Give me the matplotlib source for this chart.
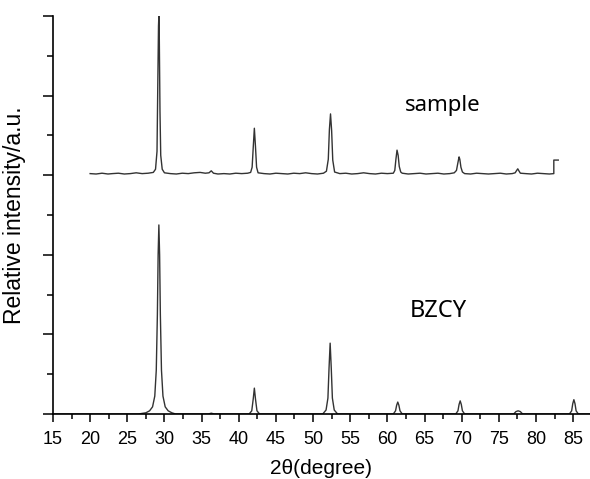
import matplotlib
matplotlib.use("Agg")
import matplotlib.pyplot as plt
from matplotlib.ticker import MultipleLocator

# 2theta / intensity points (arbitrary units, axis 0..1000)
sample_2theta = [20.0, 20.8, 21.6, 22.4, 23.0, 23.8, 24.6, 25.4, 26.2, 27.0, 27.8, 28.5,
                 28.8, 29.0, 29.1, 29.2, 29.25, 29.3, 29.4, 29.5, 29.7, 30.0,
                 30.8, 31.6, 32.4, 33.2, 34.0, 34.8, 35.5, 36.0, 36.3, 36.6, 37.2,
                 38.0, 38.8, 39.6, 40.4, 41.2, 41.6, 41.8, 41.95, 42.1, 42.25, 42.4, 42.6,
                 43.4, 44.2, 45.0, 45.8, 46.6, 47.4, 48.2, 49.0, 49.8, 50.6, 51.4,
                 51.8, 52.05, 52.2, 52.35, 52.5, 52.65, 52.9,
                 53.6, 54.4, 55.2, 56.0, 56.8, 57.6, 58.4, 59.2, 60.0, 60.8,
                 61.0, 61.15, 61.3, 61.45, 61.6, 61.8, 62.0,
                 62.8, 63.6, 64.4, 65.2, 66.0, 66.8, 67.6, 68.4, 69.0,
                 69.3, 69.5, 69.65, 69.75, 69.9, 70.1, 70.4,
                 71.2, 72.0, 72.8, 73.6, 74.4, 75.2, 76.0, 76.8,
                 77.2, 77.4, 77.55, 77.7, 77.9,
                 78.6, 79.4, 80.2, 81.0, 81.8, 82.4, 82.4, 83.0]
sample_int = [604, 603, 605, 603, 604, 605, 603, 604, 606, 604, 605, 607,
              615, 660, 820, 975, 1000, 960, 760, 650, 615, 606,
              604, 603, 605, 604, 606, 607, 605, 606, 611, 605, 603,
              604, 603, 605, 604, 605, 607, 620, 670, 718, 672, 620, 606,
              604, 603, 605, 604, 603, 605, 604, 606, 604, 603, 605,
              610, 640, 715, 754, 712, 638, 608,
              604, 605, 603, 604, 606, 604, 603, 605, 604, 605,
              612, 640, 663, 650, 622, 608, 605,
              603, 604, 605, 603, 604, 605, 603, 604, 606,
              612, 632, 646, 640, 620, 608, 604,
              603, 605, 604, 603, 604, 605, 603, 604,
              606, 612, 616, 611, 605,
              604, 603, 605, 604, 603, 604, 638, 638]

bzcy_2theta = [15.0, 26.5, 27.5, 28.0, 28.4, 28.7, 28.9, 29.05, 29.15, 29.25, 29.35,
               29.45, 29.6, 29.8, 30.1, 30.5, 31.0, 31.5,
               35.9, 36.3, 36.7,
               41.4, 41.75, 41.95, 42.1, 42.25, 42.45, 42.8,
               51.3, 51.75, 52.0, 52.15, 52.3, 52.45, 52.6, 52.85, 53.3,
               60.8, 61.1, 61.25, 61.4, 61.55, 61.7, 62.0,
               69.2, 69.5, 69.65, 69.8, 69.95, 70.1, 70.4,
               77.0, 77.3, 77.6, 77.9, 78.2,
               84.5, 84.8, 84.95, 85.1, 85.25, 85.4, 85.7, 87.3]
bzcy_int = [0, 0, 3, 8, 18, 45, 110, 250, 400, 475, 400,
            250, 110, 45, 18, 8, 3, 0,
            0, 2, 0,
            0, 8, 38, 65, 38, 8, 0,
            0, 10, 40, 115, 178, 115, 40, 10, 0,
            0, 8, 22, 30, 22, 8, 0,
            0, 8, 24, 33, 24, 8, 0,
            0, 6, 8, 6, 0,
            0, 8, 26, 36, 26, 8, 0, 0]

xticks = [15, 20, 25, 30, 35, 40, 45, 50, 55, 60, 65, 70, 75, 80, 85]

fig = plt.figure(figsize=(5.9, 4.79), dpi=100)
ax = fig.add_axes([0.0898, 0.1357, 0.9102, 0.8309])

ax.plot(sample_2theta, sample_int, color="#333333", lw=1.0)
ax.plot(bzcy_2theta, bzcy_int, color="#333333", lw=1.0)

ax.set_xlim(15, 87.27)
ax.set_ylim(0, 1000)
ax.set_xticks(xticks)
ax.xaxis.set_minor_locator(MultipleLocator(2.5))
ax.yaxis.set_major_locator(MultipleLocator(200))
ax.yaxis.set_minor_locator(MultipleLocator(100))
ax.set_yticklabels([])

for s in ["top", "right"]:
    ax.spines[s].set_visible(False)
for s in ["left", "bottom"]:
    ax.spines[s].set_linewidth(1.2)

ax.tick_params(axis="x", which="major", direction="out", length=6, width=1.1,
               pad=6, labelsize=13)
ax.tick_params(axis="x", which="minor", direction="out", length=3.5, width=1.1)
ax.tick_params(axis="y", which="major", direction="out", length=7, width=1.1)
ax.tick_params(axis="y", which="minor", direction="out", length=4, width=1.1)
for lab in ax.get_xticklabels():
    lab.set_family("Liberation Sans")

ax.set_xlabel("2θ(degree)", fontsize=15, family="Liberation Sans", labelpad=8)
ax.set_ylabel("Relative intensity/a.u.", fontsize=16.5, family="Liberation Sans",
              labelpad=9)

ax.text(62.4, 776, "sample", fontsize=16, family="Noto Sans", va="center")
ax.text(63.0, 259, "BZCY", fontsize=17, family="Noto Sans", va="center")

fig.savefig("out.png", dpi=100)
